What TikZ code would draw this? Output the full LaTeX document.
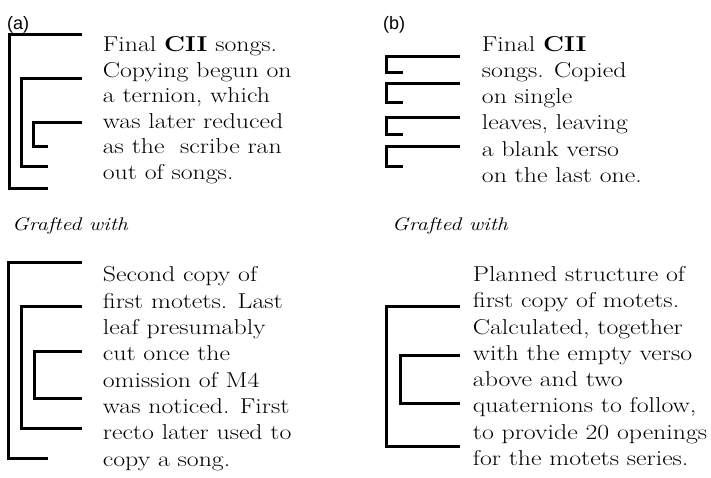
\documentclass[tikz,border=0pt]{standalone}
\usepackage{fontspec}
\setmainfont{Latin Modern Roman}[FakeStretch=1.2]
\setsansfont{Liberation Sans}
\begin{document}
\begin{tikzpicture}[x=1pt,y=-1pt,
  bracket/.style={line width=3pt, line join=miter},
  % multi-line blocks are placed by the baseline of their last line
  body/.style={anchor=base west, align=left, inner sep=0pt,
    font=\fontsize{21.5}{26.3}\selectfont},
  panel/.style={anchor=base west, inner sep=0pt,
    font=\sffamily\fontsize{18}{20}\selectfont},
  graft/.style={anchor=base west, inner sep=0pt,
    font=\itshape\fontsize{18.3}{22}\selectfont}]
\useasboundingbox (0,0) rectangle (711,477);

% panel labels
\node[panel] (la) at (7,29) {(a)};
\node[panel] (lb) at (383,29) {(b)};

% (a) upper gathering: nested folios
\draw[bracket] (82,34) -| (9,188) -- (48,188);
\draw[bracket] (82,78.3) -| (21.7,166.7) -- (48,166.7);
\draw[bracket] (82,122.7) -| (33.3,146) -- (48,146);
\node[body, font=\fontsize{21.5}{25.5}\selectfont] (ta) at (102.7,179.2)
  {Final \textbf{CII} songs.\\Copying begun on\\a ternion, which\\was later reduced\\as the~ scribe ran\\out of songs.};

% (b) upper gathering: single leaves
\draw[bracket] (460,56) -| (386.7,72.7) -- (402.7,72.7);
\draw[bracket] (460,83.3) -| (386.7,102.7) -- (402.7,102.7);
\draw[bracket] (460,117.3) -| (386.7,134) -- (402.7,134);
\draw[bracket] (460,146) -| (386.7,166) -- (402.7,166);
\node[body] (tb) at (481.7,182.5)
  {Final \textbf{CII}\\songs. Copied\\on single\\leaves, leaving\\a blank verso\\on the last one.};

\node[graft] (ga) at (12,230) {Grafted with};
\node[graft] (gb) at (392,230) {Grafted with};

% (a) lower gathering
\draw[bracket] (82,262.7) -| (8.3,458.3) -- (48,458.3);
\draw[bracket] (82,306.7) -| (21.7,428.3) -- (82,428.3);
\draw[bracket] (82,351.7) -| (34.3,398.3) -- (82,398.3);
\node[body] (tc) at (102.7,466)
  {Second copy of\\first motets. Last\\leaf presumably\\cut once the\\omission of M4\\was noticed. First\\recto later used to\\copy a song.};

% (b) lower gathering
\draw[bracket] (460,306.7) -| (386.7,446.7) -- (460,446.7);
\draw[bracket] (460,355) -| (400,403.3) -- (460,403.3);
\node[body] (td) at (472.7,465.5)
  {Planned structure of\\first copy of motets.\\Calculated, together\\with the empty verso\\above and two\\quaternions to follow,\\to provide 20 openings\\for the motets series.};
\end{tikzpicture}
\end{document}
